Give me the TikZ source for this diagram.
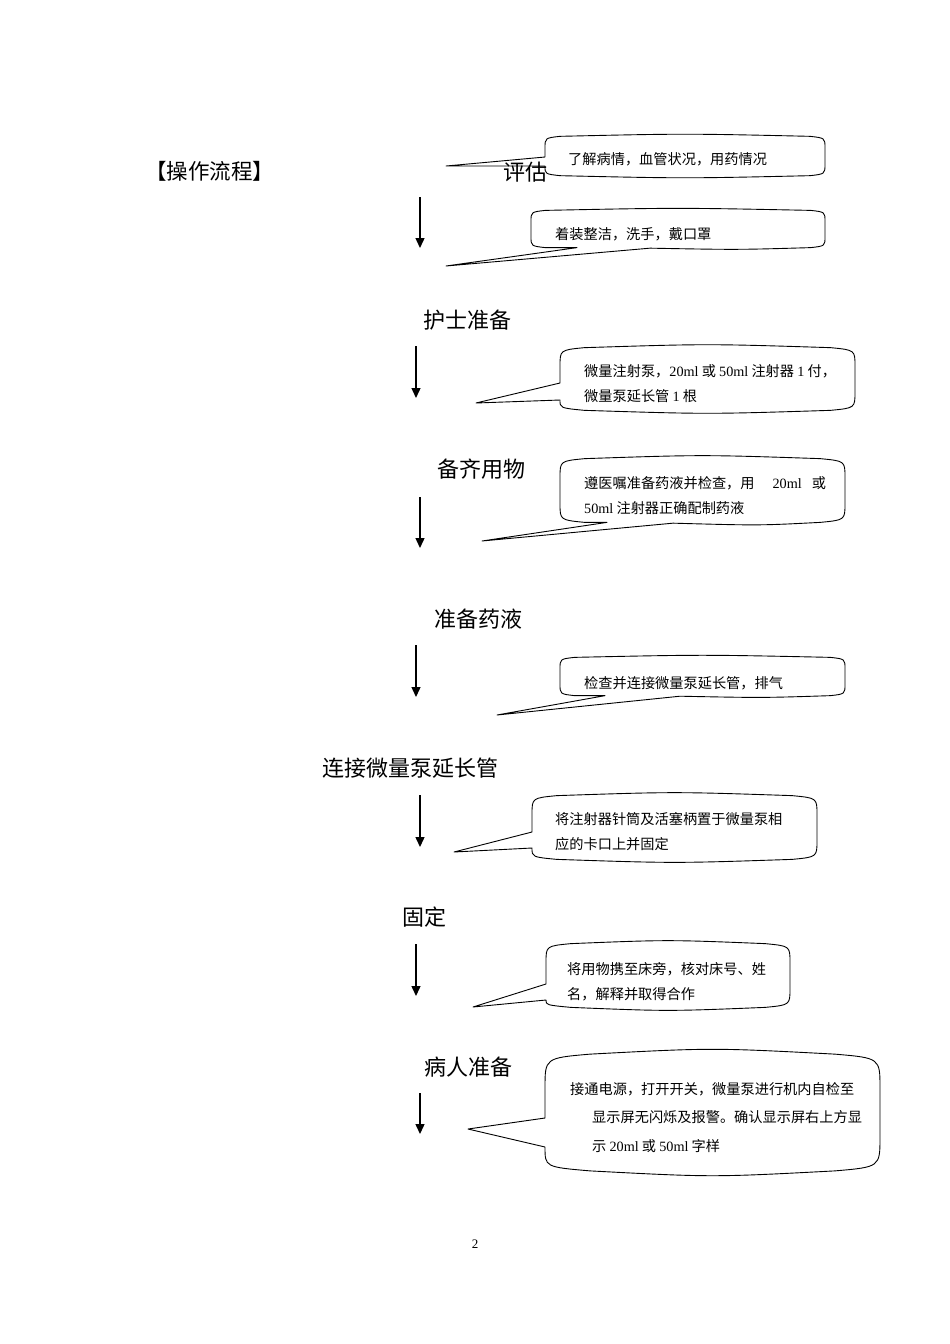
\documentclass[tikz,border=0pt]{standalone}
\usepackage{fontspec}
\setmainfont{Noto Sans CJK SC}
\newfontfamily\lat{Liberation Serif}
\usetikzlibrary{arrows.meta}
\tikzset{
  bubble/.style={draw=black, line width=0.9pt, line join=round},
  flowarrow/.style={draw=black, line width=1.4pt, -{Triangle[length=10pt,width=9pt]}},
  steplabel/.style={anchor=west, inner sep=0pt, font=\fontsize{22}{26}\selectfont},
  note/.style={anchor=west, inner sep=0pt, align=left, font=\fontsize{14.2}{25}\selectfont},
}
% callout with pointer from the left edge: x1,y1 (top-left), x2,y2 (bottom-right), ya,yb (base on left edge), tip x,y
\newcommand\bubbleleft[8]{%
  \pgfmathsetmacro\rr{min(0.28*(#4-#2),30)}%
  \pgfmathsetmacro\bb{0.05*(#4-#2)+1}%
  \draw[bubble] (#1,#5) -- (#7,#8) -- (#1,#6)
    .. controls (#1,#4) .. ({#1+1.5*\rr},{#4+0.6*\bb})
    .. controls ({(#1+#3)/2},{#4+1.6*\bb}) .. ({#3-1.5*\rr},{#4+0.6*\bb})
    .. controls (#3,#4) .. (#3,{#4-\rr})
    -- (#3,{#2+\rr}) .. controls (#3,#2) .. ({#3-1.5*\rr},{#2-0.6*\bb})
    .. controls ({(#1+#3)/2},{#2-1.6*\bb}) .. ({#1+1.5*\rr},{#2-0.6*\bb})
    .. controls (#1,#2) .. (#1,{#2+\rr}) -- cycle;}
% callout with pointer from the bottom edge: xa,xb base on bottom edge
\newcommand\bubblebottom[8]{%
  \pgfmathsetmacro\rr{min(0.28*(#4-#2),30)}%
  \pgfmathsetmacro\bb{0.05*(#4-#2)+1}%
  \draw[bubble] (#1,{#2+\rr}) -- (#1,{#4-\rr}) .. controls (#1,#4) .. ({#1+1.5*\rr},{#4+0.6*\bb})
    -- (#5,{#4+0.6*\bb}) -- (#7,#8) -- (#6,{#4+0.8*\bb})
    .. controls ({(#6+#3)/2},{#4+1.4*\bb}) .. ({#3-1.5*\rr},{#4+0.6*\bb})
    .. controls (#3,#4) .. (#3,{#4-\rr})
    -- (#3,{#2+\rr}) .. controls (#3,#2) .. ({#3-1.5*\rr},{#2-0.6*\bb})
    .. controls ({(#1+#3)/2},{#2-1.6*\bb}) .. ({#1+1.5*\rr},{#2-0.6*\bb})
    .. controls (#1,#2) .. (#1,{#2+\rr}) -- cycle;}
\begin{document}
\begin{tikzpicture}[x=1pt,y=-1pt]
\useasboundingbox (0,0) rectangle (950,1344);

% title
\node[anchor=west, inner sep=0pt, font=\fontsize{21.5}{24}\selectfont] (title) at (145,171) {【操作流程】};

% step labels
\node[steplabel] (s1) at (503,172) {评估};
\node[steplabel] (s2) at (423,320) {护士准备};
\node[steplabel] (s3) at (437,469) {备齐用物};
\node[steplabel] (s4) at (434,619) {准备药液};
\node[steplabel] (s5) at (322,768) {连接微量泵延长管};
\node[steplabel] (s6) at (402,917) {固定};
\node[steplabel] (s7) at (424,1067) {病人准备};

% arrows
\coordinate (a1s) at (420,197); \coordinate (a1e) at (420,248);
\coordinate (a2s) at (416,346); \coordinate (a2e) at (416,398);
\coordinate (a3s) at (420,497); \coordinate (a3e) at (420,548);
\coordinate (a4s) at (416,645); \coordinate (a4e) at (416,697);
\coordinate (a5s) at (420,795); \coordinate (a5e) at (420,847);
\coordinate (a6s) at (416,944); \coordinate (a6e) at (416,996);
\coordinate (a7s) at (420,1093); \coordinate (a7e) at (420,1134);
\foreach \i in {1,...,7} \draw[flowarrow] (a\i s) -- (a\i e);

% callouts
\bubbleleft{545}{138}{825}{174}{157}{166}{446}{166}
\node[note] (n1) at (568,159) {了解病情，血管状况，用药情况};

\bubblebottom{531}{212}{825}{246}{577}{650}{446}{266}
\node[note] (n2) at (555,234) {着装整洁，洗手，戴口罩};

\bubbleleft{560}{350}{855}{408}{383}{400}{476}{403}
\node[note] (n3) at (584,384) {微量注射泵，{\lat 20ml} 或 {\lat 50ml} 注射器 {\lat 1} 付，\\微量泵延长管 {\lat 1} 根};

\bubblebottom{560}{461}{845}{520}{607}{673}{482}{541}
\node[note] (n4) at (584,496) {遵医嘱准备药液并检查，用\hspace{18pt}{\lat 20ml}\hspace{10pt}或\\{\lat 50ml} 注射器正确配制药液};

\bubblebottom{560}{659}{845}{694}{605}{680}{497}{715}
\node[note] (n5) at (584,683) {检查并连接微量泵延长管，排气};

\bubbleleft{532}{798}{817}{857}{832}{848}{454}{852}
\node[note] (n6) at (555,832) {将注射器针筒及活塞柄置于微量泵相\\应的卡口上并固定};

\bubbleleft{546}{946}{790}{1005}{984}{1000}{473}{1007}
\node[note] (n7) at (567,982) {将用物携至床旁，核对床号、姓\\名，解释并取得合作};

\bubbleleft{545}{1058}{880}{1167}{1118}{1147}{468}{1129}
\node[note] (n8a) at (570,1089) {接通电源，打开开关，微量泵进行机内自检至};
\node[note, font=\fontsize{14.2}{29}\selectfont] (n8b) at (592,1132) {显示屏无闪烁及报警。确认显示屏右上方显\\示 {\lat 20ml} 或 {\lat 50ml} 字样};

% page number
\node[inner sep=0pt, font=\lat\fontsize{13}{15}\selectfont] (page) at (475,1244) {2};
\end{tikzpicture}
\end{document}
